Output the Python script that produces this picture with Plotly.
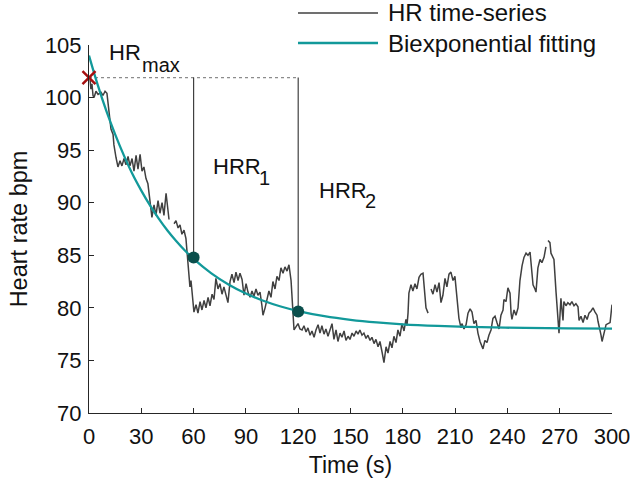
import plotly.graph_objects as go

# HR time-series (time in s, heart rate in bpm); None = gap in recording
hr_time = [0.6, 1.1, 1.7, 2.3, 2.9, 4.0, 5.2, 6.9, 8.0, 9.2, 10.3, 11.5, 12.6, 13.8, 14.3, 15.5,
           16.6, 17.8, 18.9, 20.1, 21.2, 22.4, 23.5, 24.7, 25.8, 27.0, 28.1, 29.3, 30.4, 31.5,
           32.7, 33.8, 35.0, 36.1, 37.3, 38.4, 39.6, 40.7, 41.9, 43.0, 44.2, 45.3, 45.9, 47.0,
           48.8, 49.9, 51.1, 52.2, 53.3, 54.5, 55.6, 56.8, 57.9, 58.5, 59.1, 59.7, 60.2,
           61.4, 62.5, 63.7, 64.8, 66.0, 67.1, 68.3, 69.4, 70.6, 71.7, 72.8, 74.0, 75.1, 76.3,
           77.4, 78.6, 79.7, 80.9, 82.0, 83.2, 84.3, 85.5, 86.6, 87.8, 88.9, 90.1, 91.2, 92.4,
           93.5, 94.6, 95.8, 96.9, 98.1, 99.2, 99.8, 101.0, 102.1, 103.2, 104.4, 105.5, 106.7,
           107.8, 109.0, 110.1, 111.3, 112.4, 113.6, 114.7, 115.9, 117.0, 117.6, 118.7, 119.9,
           121.0, 122.2, 123.3, 124.5, 125.6, 126.8, 127.9, 129.1, 130.2, 131.4, 132.5, 133.6,
           134.8, 135.9, 137.1, 138.2, 139.4, 140.5, 141.7, 142.8, 144.0, 145.1, 146.3, 147.4,
           148.6, 149.7, 150.9, 152.0, 153.2, 154.3, 155.4, 156.6, 157.7, 158.9, 160.0, 161.2,
           162.3, 163.5, 164.6, 165.8, 166.9, 168.1, 169.2, 170.4, 171.5, 172.7, 173.8, 174.9,
           176.1, 177.2, 178.4, 179.5, 180.7, 181.8, 182.4, 183.0, 183.5, 184.7, 185.8, 187.0,
           188.1, 189.3, 190.4, 191.6, 192.7, 193.3, 194.5, 195.3, 196.2, 197.3, 198.5, 199.6,
           200.8, 201.9, 203.0, 204.2, 205.3, 206.5, 207.6, 208.8, 209.9, 211.1, 212.2, 213.4,
           213.9, 215.1, 216.3, 217.4, 218.6, 219.7, 220.8, 222.0, 223.1, 224.3, 225.4, 226.0,
           227.1, 228.3, 229.4, 230.6, 231.7, 232.9, 234.0, 235.2, 236.3, 237.5, 238.0, 239.2,
           240.3, 241.5, 242.1, 242.6, 243.8, 244.9, 246.1, 247.2, 248.4, 249.5, 250.7, 251.8,
           253.0, 254.1, 254.7, 255.8, 256.4, 257.5, 258.7, 259.8, 261.0, 262.1, 262.7, 263.3,
           264.4, 265.0, 266.7, 267.9, 269.0, 269.6, 270.7, 271.3, 271.9, 272.4, 273.6, 274.7,
           275.9, 277.0, 278.2, 279.3, 280.5, 281.1, 282.2, 283.4, 284.5, 285.7, 286.8, 288.0,
           289.1, 290.3, 291.4, 292.0, 293.1, 293.7, 294.3, 295.4, 296.6, 297.7, 298.9, 300.0]
hr_bpm = [101.7, 100.8, 101.3, 100.2, 100.0, 100.6, 100.3, 100.5, 100.2, 100.6, 100.4, 98.5,
          97.0, 96.5, 95.5, 94.3, 93.4, 94.0, 93.5, 94.2, 93.6, 94.4, 93.5, 94.2, 93.0, 94.5,
          93.2, 94.6, 93.0, 93.4, 92.3, 91.8, 90.0, 88.6, 89.8, 88.8, 90.2, 89.0, 90.0, 88.8,
          90.9, 89.0, 88.4, None, 88.0, 88.3, 87.6, 87.9, 87.0, 87.4, 86.6, 84.5, 82.0, 82.6,
          81.5, 80.0, 79.6, 80.3, 79.5, 80.6, 79.8, 80.7, 80.0, 81.0, 80.2, 81.3, 80.8, 82.8,
          81.8, 82.3, 81.3, 82.0, 81.2, 80.5, 82.5, 83.2, 82.4, 83.4, 82.6, 83.3, 82.7, 81.2,
          82.3, 81.5, 81.0, 81.6, 81.1, 81.8, 81.2, 81.5, 80.2, 79.3, 80.0, 80.8, 81.6, 81.0,
          82.5, 81.8, 83.0, 82.6, 83.8, 83.3, 83.9, 83.5, 84.1, 82.6, 80.0, 77.9, 78.2, 78.5,
          78.0, 77.9, 78.3, 77.7, 78.1, 77.4, 77.8, 77.2, 77.9, 78.4, 77.6, 78.3, 77.5, 78.0,
          77.3, 77.8, 78.5, 77.0, 77.9, 76.8, 77.6, 77.2, 77.8, 76.9, 77.3, 77.0, 77.6, 77.3,
          77.8, 77.5, 77.9, 77.4, 77.6, 77.1, 77.4, 76.9, 77.2, 76.6, 77.0, 76.3, 76.8, 75.8,
          74.8, 76.3, 75.7, 76.8, 76.2, 77.3, 76.7, 77.9, 77.3, 78.5, 77.8, 78.9, 78.3, 79.5,
          81.4, 82.2, 81.6, 82.3, 81.8, 82.9, 83.2, 83.3, 81.5, 80.0, 79.5, None, 81.8, 81.3,
          82.2, 81.5, 82.4, 80.5, 81.2, 82.8, 82.0, 83.2, 83.4, 82.6, 83.0, 80.5, 79.0, 78.1,
          78.5, 78.0, 78.4, 79.5, 79.9, 79.6, 78.5, 78.8, 77.6, 76.8, 76.3, 76.1, 76.9, 76.7,
          77.4, 77.9, 79.0, 79.2, 78.6, 78.0, 79.3, 79.8, 80.8, 80.6, 81.9, 81.4, 79.5, 78.9,
          79.8, 79.3, 80.0, 82.6, 84.0, 84.8, 85.2, 85.0, 85.3, 83.6, 82.2, 81.8, 81.5, 83.8,
          84.6, 84.3, 84.8, 85.8, None, 86.4, 86.2, 85.2, 84.6, 81.5, 78.5, 77.6, 80.9, 79.5,
          78.8, 80.6, 80.2, 80.5, 80.3, 80.6, 80.2, 80.4, 80.1, 78.8, 79.2, 78.6, 79.3, 78.9,
          79.5, 79.7, 80.0, 79.6, 79.3, 78.7, 78.0, 77.4, 76.8, 77.7, 78.4, 78.5, 78.6, 80.3]

# Biexponential fit, values
fit_time = [0, 5, 10, 15, 20, 25, 30, 35, 40, 45, 50, 55, 60, 70, 80, 90, 100, 110, 120,
            135, 150, 165, 180, 200, 225, 250, 275, 300]
fit_bpm = [104.0, 101.2, 98.7, 96.5, 94.5, 92.7, 91.15, 89.74, 88.48, 87.35, 86.35, 85.45,
           84.65, 83.3, 82.22, 81.36, 80.68, 80.13, 79.7, 79.21, 78.86, 78.61, 78.43, 78.28,
           78.16, 78.09, 78.05, 78.03]

hr_max_time = 0
hr_max = 101.9
hrr_time = [60, 120]
hrr_bpm = [84.8, 79.65]

x_ticks = [0, 30, 60, 90, 120, 150, 180, 210, 240, 270, 300]
y_ticks = [70, 75, 80, 85, 90, 95, 100, 105]

GRAY = "#404040"
TEAL = "#12999a"
DARK_TEAL = "#0b4f4c"
AXIS = "#262626"
TXT = "#111111"
FONT = "Liberation Sans, Arial, Helvetica, sans-serif"

fig = go.Figure()

# reference lines
fig.add_trace(go.Scatter(x=[hr_max_time, hrr_time[1]], y=[hr_max, hr_max], mode="lines",
                         line=dict(color="#8c8c8c", width=1.2, dash="dot"), hoverinfo="skip"))
for t, v in zip(hrr_time, hrr_bpm):
    fig.add_trace(go.Scatter(x=[t, t], y=[hr_max, v], mode="lines",
                             line=dict(color=GRAY, width=1.2), hoverinfo="skip"))

fig.add_trace(go.Scatter(x=hr_time, y=hr_bpm, mode="lines", name="HR time-series",
                         line=dict(color=GRAY, width=1.5), connectgaps=False))
fig.add_trace(go.Scatter(x=fit_time, y=fit_bpm, mode="lines", name="Biexponential fitting",
                         line=dict(color=TEAL, width=2.3, shape="spline", smoothing=1.0)))

fig.add_trace(go.Scatter(x=hrr_time, y=hrr_bpm, mode="markers",
                         marker=dict(color=DARK_TEAL, size=12), cliponaxis=False))
fig.add_trace(go.Scatter(x=[hr_max_time], y=[hr_max], mode="markers",
                         marker=dict(symbol="x-thin", size=13, line=dict(color="#a50f0f", width=2.5)),
                         cliponaxis=False))

# manual legend (MATLAB style, long line samples)
legend_items = [("HR time-series", GRAY, 1.5, 1.087), ("Biexponential fitting", TEAL, 2.3, 1.0054)]
for label, col, w, yp in legend_items:
    fig.add_shape(type="line", xref="paper", yref="paper", x0=0.3996, x1=0.5526, y0=yp, y1=yp,
                  line=dict(color=col, width=w))
    fig.add_annotation(text=label, xref="paper", yref="paper", x=0.568, y=yp, xanchor="left",
                       yanchor="middle", showarrow=False, font=dict(size=24, color=TXT))

# labels: main text and (large, MATLAB-style) subscripts
labels = [("HR", 10.5, 104.33, 22), ("max", 29.4, 103.1, 20),
          ("HRR", 70.2, 93.4, 22), ("1", 96.5, 92.35, 20),
          ("HRR", 130.6, 91.2, 22), ("2", 156.9, 90.16, 20)]
for txt, lx, ly, fs in labels:
    fig.add_annotation(text=txt, x=lx, y=ly, xanchor="left", yanchor="middle",
                       showarrow=False, font=dict(size=fs, color=TXT))

fig.update_layout(
    width=631, height=482,
    margin=dict(l=89, r=19, t=45, b=69, autoexpand=False),
    plot_bgcolor="white", paper_bgcolor="white",
    showlegend=False,
    font=dict(family=FONT, size=22, color=TXT),
)
fig.update_xaxes(range=[0, 300], tickvals=x_ticks, ticks="inside", ticklen=5, tickcolor=AXIS,
                 showline=True, linecolor=AXIS, linewidth=1, showgrid=False, zeroline=False,
                 automargin=False, ticklabelstandoff=4,
                 title=dict(text="Time (s)", font=dict(size=23), standoff=8),
                 tickfont=dict(size=22))
fig.update_yaxes(range=[70, 105], tickvals=y_ticks, ticks="inside", ticklen=5, tickcolor=AXIS,
                 showline=True, linecolor=AXIS, linewidth=1, showgrid=False, zeroline=False,
                 automargin=False, ticklabelstandoff=2,
                 title=dict(text="Heart rate bpm", font=dict(size=23.5), standoff=10),
                 tickfont=dict(size=22))

# remove the default page margin so the 631x482 figure fills the window exactly
fig.write_html("out.html", config={"displayModeBar": False},
               post_script="document.body.style.margin='0';document.body.style.overflow='hidden';")
